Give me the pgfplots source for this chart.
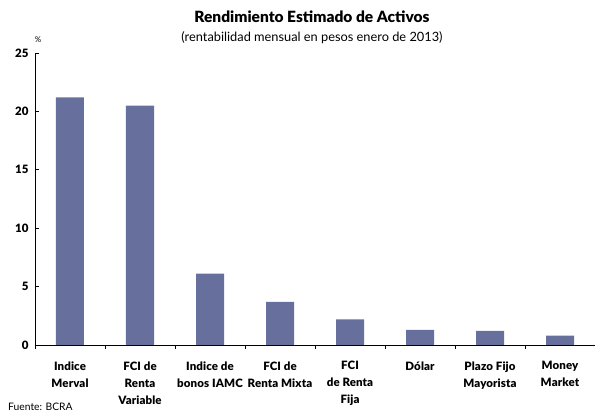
\documentclass[border=0pt]{standalone}
\usepackage{pgfplots}
\pgfplotsset{compat=1.18}
\usepackage{fontspec}
\setmainfont{Lato}[BoldFont={Lato Black}]
\definecolor{barc}{RGB}{103,112,156}
\begin{document}
\begin{tikzpicture}
\path[use as bounding box] (0,0) rectangle (595pt,414pt);
\begin{axis}[
  at={(35pt,69pt)}, anchor=south west,
  scale only axis, width=560pt, height=292pt,
  xmin=-0.5, xmax=7.5, ymin=0, ymax=25,
  axis x line*=bottom, axis y line*=left,
  axis line style={black, line width=0.8pt},
  tick align=inside, major tick length=4pt,
  tick style={black, line width=0.8pt},
  ytick={0,5,10,15,20,25},
  yticklabel style={font=\bfseries\fontsize{11.5}{13}\selectfont, xshift=-3pt},
  /pgf/number format/assume math mode=true,
  xtick={-0.5,0.5,...,7.5},
  x tick label as interval,
  xticklabels={{Indice\\Merval},{FCI de\\Renta\\Variable},{Indice de\\bonos IAMC},{FCI de\\Renta Mixta},{FCI\\de Renta\\Fija},{Dólar},{Plazo Fijo\\Mayorista},{Money\\Market}},
  xticklabel style={font=\bfseries\fontsize{11.5}{17}\selectfont\addfontfeatures{LetterSpace=1}, align=center, yshift=-9pt},
  ybar, bar width=28pt,
]
\addplot[fill=barc, draw=none] coordinates {(0,21.2) (1,20.5) (2,6.1) (3,3.7) (4,2.2) (5,1.3) (6,1.2) (7,0.8)};
\end{axis}
\node[font=\bfseries\fontsize{15.5}{17}\selectfont] at (312pt,397pt) {Rendimiento Estimado de Activos};
\node[font=\fontsize{12.8}{14}\selectfont] at (312pt,376pt) {(rentabilidad mensual en pesos enero de 2013)};
\node[font=\fontsize{8}{9}\selectfont] at (38pt,374pt) {\%};
\node[font=\fontsize{10.3}{11}\selectfont, anchor=west, inner sep=0pt] at (8pt,7pt) {Fuente: BCRA};
\end{tikzpicture}
\end{document}
